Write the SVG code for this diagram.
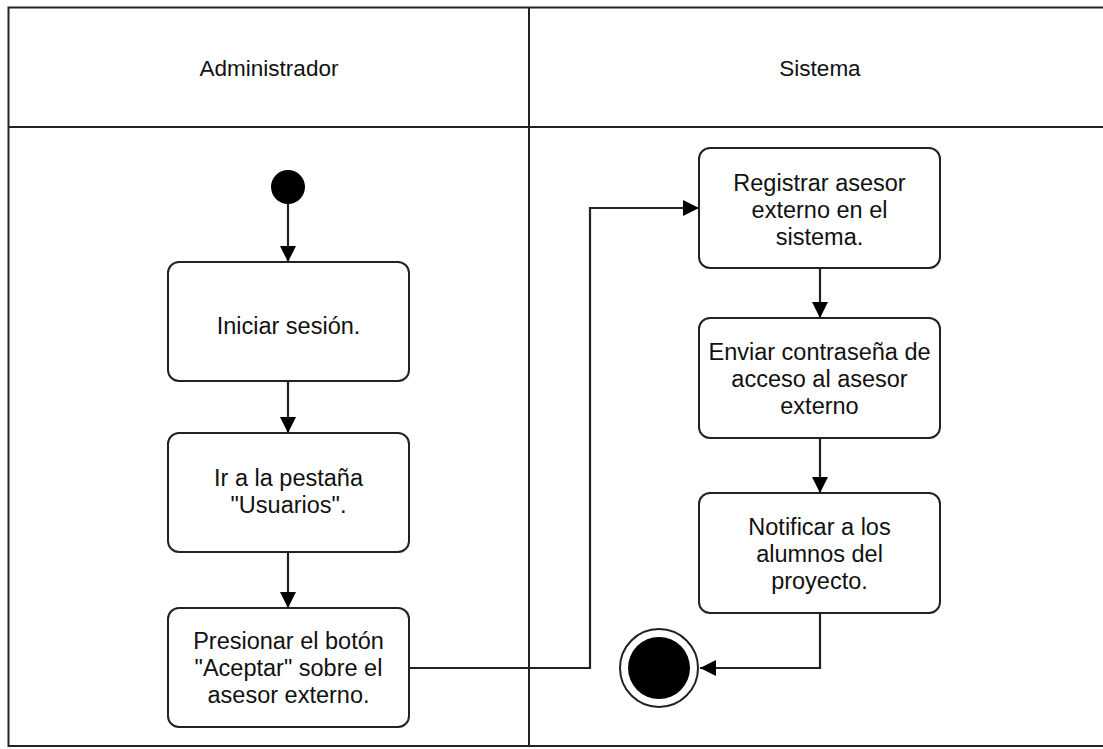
<svg xmlns="http://www.w3.org/2000/svg" width="1103" height="749" viewBox="0 0 1103 749">
<style>
.lane{fill:none;stroke:#222;stroke-width:2}
.box{fill:#fff;stroke:#222;stroke-width:2}
.t{font-family:"Liberation Sans",Arial,sans-serif;font-size:23.5px;fill:#111;text-anchor:middle;dominant-baseline:central}
.h{font-size:22.5px}
.c{fill:none;stroke:#222;stroke-width:2.2}
</style>
<defs>
<marker id="ah" markerUnits="userSpaceOnUse" markerWidth="18" markerHeight="16" refX="16" refY="8" orient="auto">
<path d="M0,0 L16,8 L0,16 Z" fill="#000"/>
</marker>
</defs>
<rect width="1103" height="749" fill="#fff"/>
<g id="lanes">
<rect class="lane" x="8.5" y="7.5" width="1110" height="738.5"/>
<line class="lane" x1="529" y1="7.5" x2="529" y2="746"/>
<line class="lane" x1="8.5" y1="127" x2="1110" y2="127"/>
<text class="t h" x="269" y="68">Administrador</text>
<text class="t h" x="820" y="68">Sistema</text>
</g>
<g id="connectors">
<path class="c" d="M288,203 L288,262" marker-end="url(#ah)"/>
<path class="c" d="M288,381 L288,433" marker-end="url(#ah)"/>
<path class="c" d="M288,552 L288,608" marker-end="url(#ah)"/>
<path class="c" d="M409,668 L590,668 L590,208 L699,208" marker-end="url(#ah)"/>
<path class="c" d="M820,268 L820,318" marker-end="url(#ah)"/>
<path class="c" d="M820,438 L820,493" marker-end="url(#ah)"/>
<path class="c" d="M820,613 L820,668 L700,668" marker-end="url(#ah)"/>
</g>
<g id="start"><circle cx="288" cy="187" r="17" fill="#000"/></g>
<g id="n1"><rect class="box" x="168" y="262" width="241" height="119" rx="11"/>
<text class="t" x="288.5" y="326">Iniciar sesión.</text></g>
<g id="n2"><rect class="box" x="168" y="433" width="241" height="119" rx="11"/>
<text class="t" x="288.5" y="478">Ir a la pestaña</text>
<text class="t" x="288.5" y="505">"Usuarios".</text></g>
<g id="n3"><rect class="box" x="168" y="608" width="241" height="119" rx="11"/>
<text class="t" x="288.5" y="641">Presionar el botón</text>
<text class="t" x="288.5" y="668">"Aceptar" sobre el</text>
<text class="t" x="288.5" y="695">asesor externo.</text></g>
<g id="n4"><rect class="box" x="699" y="148" width="241" height="120" rx="11"/>
<text class="t" x="819.5" y="183">Registrar asesor</text>
<text class="t" x="819.5" y="210">externo en el</text>
<text class="t" x="819.5" y="237">sistema.</text></g>
<g id="n5"><rect class="box" x="699" y="318" width="241" height="120" rx="11"/>
<text class="t" x="819.5" y="352">Enviar contraseña de</text>
<text class="t" x="819.5" y="379">acceso al asesor</text>
<text class="t" x="819.5" y="406">externo</text></g>
<g id="n6"><rect class="box" x="699" y="493" width="241" height="120" rx="11"/>
<text class="t" x="819.5" y="527">Notificar a los</text>
<text class="t" x="819.5" y="554">alumnos del</text>
<text class="t" x="819.5" y="581">proyecto.</text></g>
<g id="end"><circle cx="659" cy="668" r="39" fill="#fff" stroke="#222" stroke-width="2"/>
<circle cx="659" cy="668" r="31" fill="#000"/></g>
</svg>
